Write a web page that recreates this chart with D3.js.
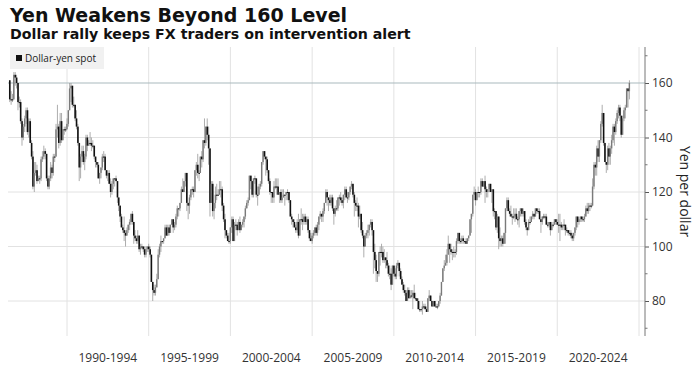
<!DOCTYPE html>
<html>
<head>
<meta charset="utf-8">
<script src="https://d3js.org/d3.v7.min.js"></script>
<style>
  body { margin: 0; background: #fff; }
</style>
</head>
<body>
<script>

// monthly candles of dollar-yen, Jul 1986 .. Jun 2024
var firstMonth = new Date(1986, 6, 1);
var firstOpen = 161;
var closes = [
  154, 154, 154, 163, 162, 160,                               // 1986 (Jul-Dec)
  153, 153, 146, 140, 144, 147, 150, 142, 146, 138, 133, 122, // 1987
  127, 128, 124, 125, 125, 132, 133, 135, 134, 125, 122, 125, // 1988
  129, 127, 133, 133, 143, 144, 138, 146, 139, 143, 143, 143, // 1989
  145, 150, 158, 159, 152, 152, 147, 144, 138, 129, 133, 135, // 1990
  131, 133, 140, 137, 138, 138, 137, 137, 133, 131, 130, 125, // 1991
  127, 129, 133, 133, 128, 126, 127, 123, 120, 123, 125, 125, // 1992
  124, 118, 115, 111, 107, 106, 105, 104, 106, 108, 109, 112, // 1993
  109, 104, 103, 102, 104, 99, 100, 100, 99, 97, 99, 100,     // 1994
  99, 97, 87, 84, 83, 85, 88, 97, 100, 102, 102, 103,         // 1995
  107, 104, 107, 105, 108, 110, 107, 108, 111, 114, 114, 116, // 1996
  121, 120, 124, 127, 116, 115, 118, 121, 121, 120, 128, 130, // 1997
  127, 127, 133, 132, 139, 138, 144, 141, 136, 116, 123, 113, // 1998
  116, 119, 119, 119, 121, 121, 115, 110, 106, 104, 102, 102, // 1999
  107, 110, 102, 108, 108, 106, 109, 106, 108, 109, 111, 114, // 2000
  116, 117, 126, 124, 119, 125, 125, 119, 119, 122, 123, 131, // 2001
  135, 133, 132, 128, 124, 120, 120, 118, 122, 122, 122, 119, // 2002
  120, 117, 118, 119, 119, 120, 120, 117, 111, 110, 109, 107, // 2003
  106, 109, 104, 110, 110, 109, 111, 109, 110, 106, 103, 102, // 2004
  104, 105, 107, 105, 108, 111, 112, 111, 113, 116, 120, 118, // 2005
  117, 116, 118, 114, 112, 114, 114, 118, 118, 117, 116, 119, // 2006
  121, 118, 118, 120, 122, 123, 119, 116, 115, 115, 111, 112, // 2007
  106, 104, 100, 104, 105, 106, 108, 109, 106, 98, 95, 91,    // 2008
  90, 98, 98, 98, 95, 96, 95, 93, 90, 90, 86, 93,             // 2009
  90, 89, 93, 94, 91, 88, 86, 84, 83, 80, 84, 81,             // 2010
  82, 82, 83, 81, 81, 80, 77, 77, 77, 78, 78, 77,             // 2011
  76, 81, 82, 80, 78, 80, 78, 78, 78, 80, 82, 87,             // 2012
  92, 93, 94, 97, 101, 99, 98, 98, 98, 98, 102, 105,          // 2013
  102, 102, 103, 102, 102, 101, 103, 104, 110, 112, 119, 120, // 2014
  117, 120, 120, 120, 124, 122, 124, 121, 120, 121, 123, 120, // 2015
  121, 113, 113, 107, 111, 103, 102, 103, 101, 105, 114, 117, // 2016
  113, 112, 111, 111, 111, 112, 110, 110, 113, 114, 112, 113, // 2017
  109, 107, 106, 109, 109, 111, 112, 111, 114, 113, 113, 110, // 2018
  109, 111, 111, 111, 108, 108, 109, 106, 108, 108, 110, 109, // 2019
  108, 108, 108, 107, 108, 108, 106, 106, 105, 105, 104, 103, // 2020
  105, 107, 111, 109, 110, 111, 110, 110, 111, 114, 113, 115, // 2021
  115, 115, 122, 130, 129, 136, 133, 139, 145, 149, 138, 131, // 2022
  130, 136, 133, 136, 139, 144, 142, 146, 149, 151, 148, 141, // 2023
  147, 150, 151, 158, 157, 160                                // 2024 (Jan-Jun)
];

var highs = [
  161, 157, 156, 164, 164, 163,
  160, 155, 154, 147, 145, 148, 151, 151, 147, 147, 139, 135,
  131, 131, 130, 126, 126, 133, 135, 137, 136, 134, 126, 126,
  131, 130, 134, 134, 145, 152, 145, 149, 149, 143, 144, 144,
  147, 150, 160, 160, 159, 155, 152, 150, 145, 138, 134, 137,
  137, 134, 141, 141, 139, 142, 140, 139, 137, 133, 131, 131,
  127, 129, 134, 135, 134, 128, 128, 128, 125, 124, 125, 125,
  126, 124, 118, 115, 112, 108, 111, 106, 107, 108, 110, 112,
  113, 109, 106, 104, 106, 104, 101, 101, 100, 100, 100, 100,
  101, 100, 96, 87, 86, 86, 90, 99, 101, 104, 102, 103,
  108, 108, 108, 108, 108, 110, 110, 109, 112, 115, 114, 116,
  122, 125, 124, 127, 127, 116, 119, 121, 122, 122, 128, 131,
  134, 128, 133, 135, 139, 147, 144, 147, 144, 136, 124, 124,
  116, 122, 123, 121, 124, 124, 122, 116, 112, 106, 105, 105,
  107, 111, 111, 109, 110, 109, 110, 111, 108, 110, 111, 115,
  117, 118, 126, 126, 124, 125, 126, 125, 122, 123, 124, 131,
  135, 135, 133, 133, 128, 125, 120, 120, 124, 125, 125, 125,
  120, 121, 121, 121, 119, 120, 121, 120, 117, 112, 110, 110,
  108, 110, 112, 110, 114, 112, 112, 112, 111, 111, 106, 105,
  105, 106, 107, 108, 109, 111, 113, 112, 114, 116, 121, 121,
  118, 119, 119, 119, 114, 115, 117, 118, 119, 120, 118, 119,
  122, 122, 120, 120, 122, 124, 123, 120, 117, 118, 116, 115,
  110, 109, 104, 105, 106, 108, 108, 110, 110, 106, 101, 97,
  91, 98, 100, 101, 100, 99, 96, 98, 94, 93, 92, 93,
  93, 92, 94, 95, 94, 92, 89, 87, 86, 84, 85, 85,
  84, 84, 84, 86, 83, 81, 81, 80, 77, 80, 79, 79,
  78, 81, 84, 82, 80, 80, 80, 79, 79, 80, 83, 87,
  92, 95, 97, 99, 104, 101, 101, 99, 100, 99, 103, 105,
  105, 103, 104, 104, 102, 103, 103, 104, 110, 110, 119, 122,
  121, 120, 122, 120, 125, 125, 124, 126, 122, 121, 123, 123,
  121, 121, 114, 112, 112, 111, 107, 104, 104, 105, 114, 118,
  118, 114, 115, 112, 114, 114, 114, 111, 113, 114, 114, 114,
  113, 110, 107, 110, 111, 111, 113, 112, 114, 114, 114, 114,
  110, 111, 112, 112, 112, 109, 109, 109, 109, 109, 110, 110,
  110, 112, 112, 109, 108, 110, 108, 107, 106, 106, 106, 105,
  105, 107, 111, 111, 110, 111, 111, 111, 112, 115, 116, 116,
  116, 116, 125, 131, 131, 137, 139, 139, 146, 152, 148, 138,
  131, 137, 138, 137, 141, 145, 145, 147, 150, 152, 152, 148,
  148, 151, 152, 158, 158, 161
];

var lows = [
  153, 152, 153, 154, 159, 158,
  150, 151, 145, 137, 139, 142, 145, 141, 140, 138, 132, 121,
  120, 126, 123, 124, 123, 124, 131, 132, 132, 124, 121, 121,
  124, 125, 126, 131, 133, 140, 136, 137, 138, 139, 141, 142,
  143, 144, 150, 153, 151, 151, 146, 143, 137, 124, 125, 131,
  130, 128, 132, 135, 137, 137, 135, 136, 132, 129, 129, 125,
  123, 125, 128, 131, 128, 125, 124, 123, 118, 119, 121, 122,
  124, 116, 113, 109, 107, 105, 102, 100, 104, 105, 106, 108,
  108, 101, 102, 101, 101, 98, 97, 99, 98, 96, 96, 98,
  98, 96, 88, 80, 82, 82, 85, 88, 96, 98, 101, 101,
  104, 104, 104, 104, 105, 108, 105, 106, 107, 110, 111, 113,
  116, 120, 120, 122, 113, 110, 112, 117, 119, 118, 121, 126,
  125, 124, 127, 129, 131, 136, 137, 139, 130, 111, 116, 111,
  110, 114, 117, 119, 119, 118, 113, 109, 103, 103, 102, 101,
  101, 105, 102, 102, 106, 104, 106, 105, 106, 107, 107, 110,
  114, 115, 117, 121, 118, 118, 123, 118, 115, 119, 121, 122,
  130, 132, 126, 127, 123, 119, 116, 116, 116, 121, 119, 119,
  116, 116, 116, 118, 115, 117, 117, 116, 111, 108, 107, 107,
  105, 105, 103, 104, 108, 106, 108, 108, 108, 105, 102, 102,
  101, 103, 104, 104, 104, 106, 110, 109, 109, 112, 116, 115,
  113, 115, 115, 113, 108, 111, 113, 113, 115, 116, 115, 114,
  117, 118, 116, 117, 119, 121, 118, 111, 113, 113, 107, 110,
  105, 103, 96, 101, 103, 103, 104, 107, 104, 90, 92, 87,
  87, 89, 93, 96, 94, 94, 92, 92, 89, 88, 84, 87,
  89, 88, 88, 92, 89, 88, 86, 83, 82, 80, 80, 81,
  82, 81, 77, 81, 80, 80, 77, 76, 76, 75, 77, 77,
  76, 76, 80, 80, 78, 78, 78, 78, 77, 78, 79, 82,
  87, 91, 93, 93, 97, 94, 97, 95, 96, 96, 97, 101,
  101, 101, 101, 101, 101, 101, 101, 102, 104, 105, 111, 117,
  115, 117, 118, 118, 119, 122, 122, 116, 118, 118, 120, 120,
  116, 111, 110, 106, 105, 99, 100, 100, 100, 101, 101, 113,
  113, 111, 111, 108, 110, 109, 110, 108, 107, 111, 111, 111,
  108, 106, 104, 106, 108, 109, 110, 110, 111, 112, 112, 110,
  105, 108, 110, 110, 108, 107, 107, 104, 106, 107, 108, 108,
  108, 105, 102, 106, 106, 106, 104, 105, 104, 104, 103, 102,
  102, 104, 106, 107, 108, 109, 109, 109, 109, 111, 112, 112,
  113, 114, 115, 121, 126, 126, 131, 131, 138, 144, 137, 131,
  127, 128, 130, 130, 134, 138, 137, 141, 145, 147, 146, 140,
  141, 146, 147, 151, 151, 154
];

var yTicks = [80, 100, 120, 140, 160];
var yMinorTicks = [70, 90, 110, 130, 150, 170];
var gridYears = [1990, 1995, 2000, 2005, 2010, 2015, 2020, 2025];
var periodLabels = ["1990-1994", "1995-1999", "2000-2004", "2005-2009", "2010-2014", "2015-2019", "2020-2024"];
var threshold = 160;

var width = 694, height = 366;
var plot = { left: 8, right: 645, top: 47, bottom: 336 };

var svg = d3.select("body").append("svg")
    .attr("width", width)
    .attr("height", height)
    .style("font-family", "'Open Sans', 'Noto Sans', sans-serif");

var x = d3.scaleTime()
    .domain([new Date(1990, 0, 1), new Date(2025, 0, 1)])
    .range([67, 639]);

var y = d3.scaleLinear()
    .domain([80, 160])
    .range([301, 83]);

// titles
svg.append("text")
    .attr("x", 10).attr("y", 22)
    .attr("font-family", "'DejaVu Sans', sans-serif")
    .attr("font-weight", "bold")
    .attr("font-size", 19)
    .attr("fill", "#111")
    .text("Yen Weakens Beyond 160 Level");

svg.append("text")
    .attr("x", 10).attr("y", 39)
    .attr("font-family", "'DejaVu Sans', sans-serif")
    .attr("font-weight", "bold")
    .attr("font-size", 14.2)
    .attr("fill", "#111")
    .text("Dollar rally keeps FX traders on intervention alert");

// grid
svg.append("g").selectAll("line")
    .data(gridYears)
    .join("line")
    .attr("x1", d => x(new Date(d, 0, 1)))
    .attr("x2", d => x(new Date(d, 0, 1)))
    .attr("y1", plot.top)
    .attr("y2", plot.bottom)
    .attr("stroke", "#e2e2e2")
    .attr("stroke-width", 1);

svg.append("g").selectAll("line")
    .data(yTicks)
    .join("line")
    .attr("x1", plot.left)
    .attr("x2", plot.right)
    .attr("y1", d => y(d))
    .attr("y2", d => y(d))
    .attr("stroke", d => d == threshold ? "#a9b9bd" : "#e2e2e2")
    .attr("stroke-width", 1);

// legend
var legend = svg.append("g").attr("transform", "translate(10,47)");
legend.append("rect")
    .attr("width", 94).attr("height", 22)
    .attr("fill", "#f1f1f1");
legend.append("rect")
    .attr("x", 6).attr("y", 8)
    .attr("width", 6).attr("height", 6)
    .attr("fill", "#111");
legend.append("text")
    .attr("x", 15).attr("y", 15)
    .attr("font-size", 10)
    .attr("fill", "#222")
    .text("Dollar-yen spot");

// candles
var candles = closes.map(function(c, i) {
  var o = i > 0 ? closes[i - 1] : firstOpen;
  return {
    date: d3.timeMonth.offset(firstMonth, i),
    open: o,
    close: c,
    high: Math.max(highs[i], o, c),
    low: Math.min(lows[i], o, c)
  };
});

var cg = svg.append("g");

cg.selectAll("line")
    .data(candles)
    .join("line")
    .attr("x1", d => x(d.date))
    .attr("x2", d => x(d.date))
    .attr("y1", d => y(d.high))
    .attr("y2", d => y(d.low))
    .attr("stroke", "#8a8a8a")
    .attr("stroke-width", 0.7);

cg.selectAll("rect")
    .data(candles)
    .join("rect")
    .attr("x", d => x(d.date) - 0.75)
    .attr("width", d => d.close > d.open ? 1.4 : 1.6)
    .attr("y", d => y(Math.max(d.open, d.close)))
    .attr("height", d => Math.max(1, Math.abs(y(d.open) - y(d.close))))
    .attr("fill", d => d.close > d.open ? "#7a7a7a" : "#111");

// right axis
var axis = d3.axisRight(y)
    .tickValues(yTicks)
    .tickSize(4)
    .tickPadding(3);

var ag = svg.append("g")
    .attr("transform", "translate(" + plot.right + ",0)")
    .call(axis);
ag.select(".domain").remove();
ag.selectAll("text")
    .attr("font-size", 12)
    .attr("font-family", "'Open Sans', 'Noto Sans', sans-serif")
    .attr("fill", "#333");
ag.selectAll(".tick line").attr("stroke", "#555");

svg.append("line")
    .attr("x1", plot.right).attr("x2", plot.right)
    .attr("y1", plot.top).attr("y2", plot.bottom)
    .attr("stroke", "#777");

svg.append("g").selectAll("line")
    .data(yMinorTicks)
    .join("line")
    .attr("x1", plot.right).attr("x2", plot.right + 2.5)
    .attr("y1", d => y(d)).attr("y2", d => y(d))
    .attr("stroke", "#777");

svg.append("text")
    .attr("transform", "translate(680," + ((plot.top + plot.bottom) / 2) + ") rotate(90)")
    .attr("text-anchor", "middle")
    .attr("font-size", 14)
    .attr("fill", "#222")
    .text("Yen per dollar");

// period labels along the bottom
svg.append("g").selectAll("text")
    .data(periodLabels)
    .join("text")
    .attr("x", (d, i) => (x(new Date(gridYears[i], 0, 1)) + x(new Date(gridYears[i + 1], 0, 1))) / 2)
    .attr("y", 362)
    .attr("text-anchor", "middle")
    .attr("font-size", 12)
    .attr("fill", "#333")
    .text(d => d);

</script>
</body>
</html>
